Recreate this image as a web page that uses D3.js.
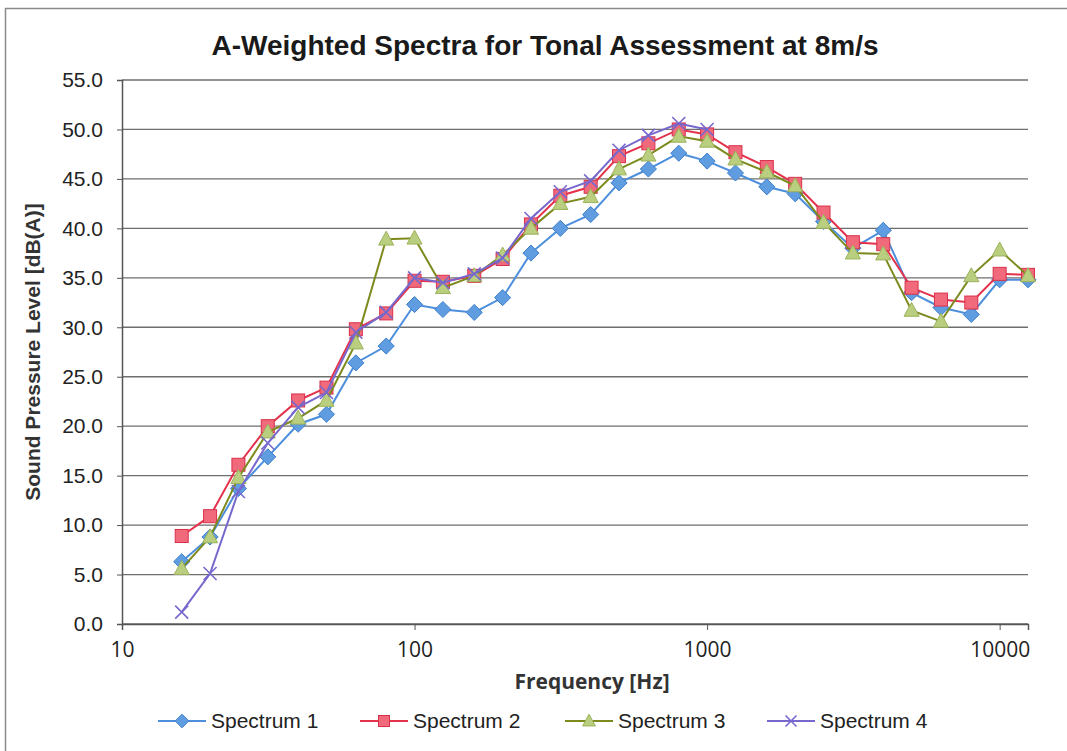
<!DOCTYPE html>
<html>
<head>
<meta charset="utf-8">
<script src="https://cdn.jsdelivr.net/npm/d3@7"></script>
<style>
  html, body { margin: 0; padding: 0; background: #fff; }
  svg { display: block; }
</style>
</head>
<body>
<svg id="chart" width="1067" height="751"></svg>
<script>
// Third-octave band centre frequencies (Hz)
const frequencies = [16, 20, 25, 31.5, 40, 50, 63, 80, 100, 125, 160, 200, 250, 315, 400,
  500, 630, 800, 1000, 1250, 1600, 2000, 2500, 3150, 4000, 5000, 6300, 8000, 10000, 12500];

// A-weighted sound pressure levels, dB(A)
const spectrum1 = [6.3, 8.8, 13.7, 16.9, 20.2, 21.2, 26.4, 28.1, 32.3, 31.8, 31.5, 33.0, 37.5, 40.0, 41.4,
  44.6, 46.0, 47.6, 46.8, 45.6, 44.2, 43.5, 40.7, 38.0, 39.8, 33.5, 32.0, 31.3, 34.8, 34.8];
const spectrum2 = [8.9, 10.9, 16.1, 20.0, 22.6, 23.9, 29.8, 31.4, 34.7, 34.6, 35.2, 36.9, 40.4, 43.3, 44.2,
  47.3, 48.6, 50.0, 49.5, 47.7, 46.2, 44.5, 41.6, 38.6, 38.4, 34.0, 32.8, 32.5, 35.4, 35.3];
const spectrum3 = [5.6, 8.8, 14.8, 19.4, 20.8, 22.6, 28.4, 38.9, 39.0, 34.0, 35.2, 37.3, 40.0, 42.5, 43.2,
  46.0, 47.4, 49.3, 48.8, 47.0, 45.7, 44.3, 40.6, 37.5, 37.4, 31.7, 30.6, 35.2, 37.8, 35.2];
const spectrum4 = [1.2, 5.1, 13.4, 18.3, 21.9, 23.4, 29.5, 31.5, 35.0, 34.5, 35.4, 37.0, 41.0, 43.7, 44.8,
  47.9, 49.4, 50.6, 50.0];

const seriesNames = ["Spectrum 1", "Spectrum 2", "Spectrum 3", "Spectrum 4"];
const xTicks = [10, 100, 1000, 10000];
const yTicks = [0, 5, 10, 15, 20, 25, 30, 35, 40, 45, 50, 55];

const styles = [
  { line: "#4d8fdc", fill: "#5f9de0", stroke: "#3f80cc", shape: "diamond" },
  { line: "#e5324c", fill: "#f06a7c", stroke: "#d9304a", shape: "square" },
  { line: "#7d8a1e", fill: "#b9cf7f", stroke: "#9cb25a", shape: "triangle" },
  { line: "#7668cc", fill: "none", stroke: "#7668cc", shape: "cross" }
];

const series = [spectrum1, spectrum2, spectrum3, spectrum4].map((vals, i) => ({
  name: seriesNames[i],
  style: styles[i],
  points: vals.map((v, j) => ({ f: frequencies[j], v }))
}));

const svg = d3.select("#chart");
const W = 1067, H = 751;
const m = { left: 122, right: 1028, top: 80, bottom: 624 };
const sans = "Liberation Sans, Arial, sans-serif";

// outer chart frame
svg.append("rect").attr("x", 5.5).attr("y", 8.5).attr("width", W + 20).attr("height", H + 20)
  .attr("fill", "#fff").attr("stroke", "#8a8a8a").attr("stroke-width", 1.5);

const x = d3.scaleLog().domain([10, 12500]).range([m.left, m.right]);
const y = d3.scaleLinear().domain([0, 55]).range([m.bottom, m.top]);

// horizontal gridlines
svg.append("g").selectAll("line").data(yTicks).join("line")
  .attr("x1", m.left).attr("x2", m.right)
  .attr("y1", d => y(d)).attr("y2", d => y(d))
  .attr("stroke", "#6e6e6e").attr("stroke-width", 1.3);

// y axis
const yAxis = svg.append("g").attr("transform", `translate(${m.left},0)`)
  .call(d3.axisLeft(y).tickValues(yTicks).tickFormat(d3.format(".1f")).tickSize(5).tickPadding(14));
yAxis.select(".domain").attr("stroke", "#555").attr("stroke-width", 1.5);
yAxis.selectAll(".tick line").attr("stroke", "#555");
yAxis.selectAll("text").attr("font-family", sans).attr("font-size", 21).attr("fill", "#222");

// x axis
const xAxis = svg.append("g").attr("transform", `translate(0,${m.bottom})`)
  .call(d3.axisBottom(x).tickValues(xTicks).tickFormat(d3.format("d")).tickSize(6).tickPadding(12));
xAxis.select(".domain").attr("stroke", "#555").attr("stroke-width", 1.5);
xAxis.selectAll(".tick line").attr("stroke", "#555");
xAxis.selectAll("text").attr("font-family", "Open Sans, sans-serif").attr("font-size", 21).attr("fill", "#222");

// title
svg.append("text").attr("x", 545).attr("y", 55).attr("text-anchor", "middle")
  .attr("font-family", sans).attr("font-weight", "bold")
  .attr("font-size", 28).attr("fill", "#1a1a1a")
  .text("A-Weighted Spectra for Tonal Assessment at 8m/s");

// axis titles
svg.append("text").attr("x", 592).attr("y", 689).attr("text-anchor", "middle")
  .attr("font-family", "Open Sans, sans-serif").attr("font-weight", "bold")
  .attr("font-size", 21).attr("fill", "#333").text("Frequency [Hz]");
svg.append("text").attr("transform", "translate(40,352) rotate(-90)").attr("text-anchor", "middle")
  .attr("font-family", sans).attr("font-weight", "bold")
  .attr("font-size", 21).attr("fill", "#333").text("Sound Pressure Level [dB(A)]");

function drawMarker(g, shape, st, size) {
  const s = size;
  if (shape === "diamond") {
    g.append("path").attr("d", `M0,${-s * 0.62}L${s * 0.62},0L0,${s * 0.62}L${-s * 0.62},0Z`)
      .attr("fill", st.fill).attr("stroke", st.stroke).attr("stroke-width", 1);
  } else if (shape === "square") {
    g.append("rect").attr("x", -s / 2).attr("y", -s / 2).attr("width", s).attr("height", s)
      .attr("fill", st.fill).attr("stroke", st.stroke).attr("stroke-width", 1);
  } else if (shape === "triangle") {
    g.append("path").attr("d", `M0,${-s * 0.62}L${s * 0.58},${s * 0.45}L${-s * 0.58},${s * 0.45}Z`)
      .attr("fill", st.fill).attr("stroke", st.stroke).attr("stroke-width", 1);
  } else {
    const h = s * 0.5;
    g.append("path").attr("d", `M${-h},${-h}L${h},${h}M${-h},${h}L${h},${-h}`)
      .attr("stroke", st.stroke).attr("stroke-width", 1.6).attr("fill", "none");
  }
}

const line = d3.line().x(d => x(d.f)).y(d => y(d.v));

series.forEach(s => {
  const g = svg.append("g");
  g.append("path").datum(s.points).attr("d", line)
    .attr("fill", "none").attr("stroke", s.style.line).attr("stroke-width", 2);
  g.selectAll("g.pt").data(s.points).join("g").attr("class", "pt")
    .attr("transform", d => `translate(${x(d.f)},${y(d.v)})`)
    .each(function () { drawMarker(d3.select(this), s.style.shape, s.style, 13); });
});

// legend
const legendX = [158, 360, 565, 767];
series.forEach((s, i) => {
  const g = svg.append("g").attr("transform", `translate(${legendX[i]},721)`);
  g.append("line").attr("x1", 0).attr("x2", 48).attr("stroke", s.style.line).attr("stroke-width", 2);
  const mg = g.append("g").attr("transform", "translate(24,0)");
  drawMarker(mg, s.style.shape, s.style, 11);
  g.append("text").attr("x", 53).attr("y", 7).attr("font-family", sans)
    .attr("font-size", 21).attr("fill", "#222").text(s.name);
});
</script>
</body>
</html>
